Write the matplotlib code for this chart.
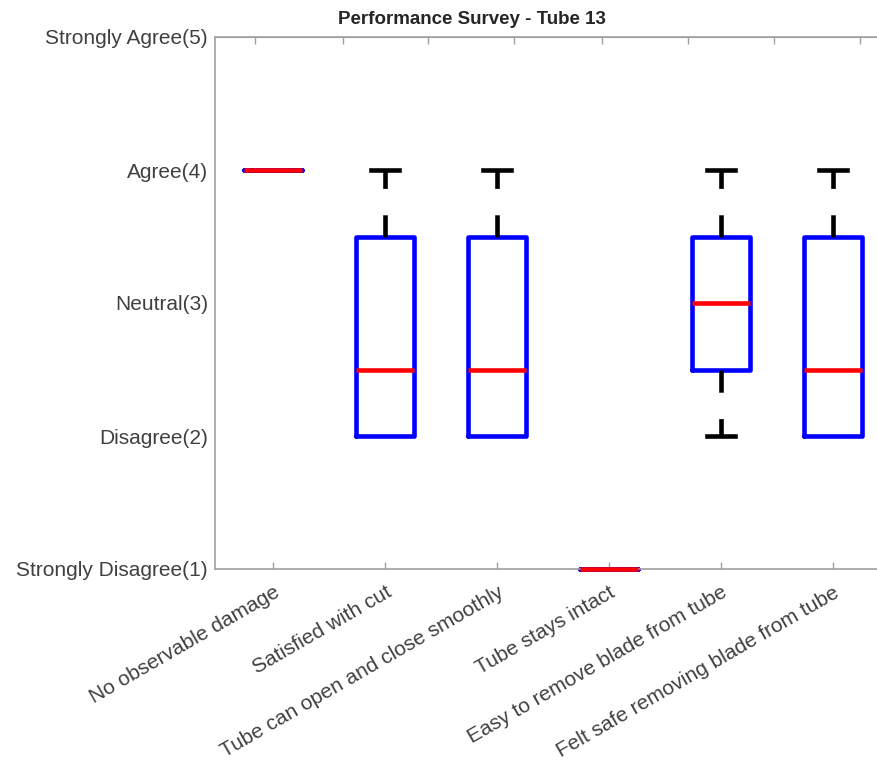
import matplotlib
matplotlib.use("Agg")
import matplotlib.pyplot as plt
import numpy as np

plt.rcParams['font.family'] = ['Liberation Sans', 'DejaVu Sans']
plt.rcParams['lines.scale_dashes'] = False

categories = ["No observable damage", "Satisfied with cut",
              "Tube can open and close smoothly", "Tube stays intact",
              "Easy to remove blade from tube", "Felt safe removing blade from tube"]
q1 = [4, 2, 2, 1, 2.5, 2]
med = [4, 2.5, 2.5, 1, 3, 2.5]
q3 = [4, 3.5, 3.5, 1, 3.5, 3.5]
whislo = [4, 2, 2, 1, 2, 2]
whishi = [4, 4, 4, 1, 4, 4]
ytick_vals = [1, 2, 3, 4, 5]
ytick_labels = ["Strongly Disagree(1)", "Disagree(2)", "Neutral(3)", "Agree(4)", "Strongly Agree(5)"]
title = "Performance Survey - Tube 13"

stats = [dict(label=c, q1=a, med=m, q3=b, whislo=lo, whishi=hi, fliers=[])
         for c, a, m, b, lo, hi in zip(categories, q1, med, q3, whislo, whishi)]

W, H = 878, 767
fig = plt.figure(figsize=(W / 100, H / 100), dpi=100)
ax = fig.add_axes([215 / W, (H - 569) / H, 674 / W, 532 / H])

txtc = '#404040'
spc = '#a0a0a0'
bp = ax.bxp(stats, positions=np.arange(1, 7), widths=0.52, capwidths=0.25,
            patch_artist=False, showfliers=False,
            boxprops=dict(color='#0000ff', linewidth=3.3),
            medianprops=dict(color='#ff0000', linewidth=3.3),
            whiskerprops=dict(color='black', linewidth=3.3, linestyle=(0, (16, 19))),
            capprops=dict(color='black', linewidth=3.3))

for b in bp['boxes']:
    b.set_solid_joinstyle('round')
    b.set_solid_capstyle('round')
    b.set_clip_on(False)
for m in bp['medians']:
    m.set_zorder(3)
    m.set_clip_on(False)

for i in range(len(categories)):
    lo_w, hi_w = bp['whiskers'][2 * i], bp['whiskers'][2 * i + 1]
    lo_c, hi_c = bp['caps'][2 * i], bp['caps'][2 * i + 1]
    if whislo[i] == q1[i]:
        lo_w.set_visible(False)
        lo_c.set_visible(False)
    if whishi[i] == q3[i]:
        hi_w.set_visible(False)
        hi_c.set_visible(False)

ax.set_xlim(0.48, 6.5)
ax.set_ylim(1, 5)
ax.set_yticks(ytick_vals)
ax.set_yticklabels(ytick_labels, fontsize=15, color=txtc)
ax.set_xticks(np.arange(1, 7))
ax.set_xticklabels(categories, rotation=30, ha='right', rotation_mode='anchor',
                   fontsize=15, color=txtc)
ax.tick_params(axis='both', direction='in', length=5, color=spc, width=1)
ax.tick_params(axis='y', length=0, pad=5)
ax.tick_params(axis='x', pad=10)
for s in ['left', 'bottom', 'top']:
    ax.spines[s].set_color(spc)
    ax.spines[s].set_linewidth(1.2)
ax.spines['right'].set_visible(False)

# top axis ticks
top_ticks_px = [255, 343, 428, 514, 602, 688, 774, 860]
sec = ax.secondary_xaxis('top')
sec.set_xticks([1 + (p - 273) / 112 for p in top_ticks_px])
sec.set_xticklabels([])
sec.tick_params(direction='in', length=5, color=spc, width=1)
sec.spines['top'].set_color(spc)

fig.text(472 / W, 1 - 20 / H, title, fontsize=13.5, fontweight='bold',
         color='#262626', ha='center', va='center')

fig.savefig("out.png", dpi=100)
